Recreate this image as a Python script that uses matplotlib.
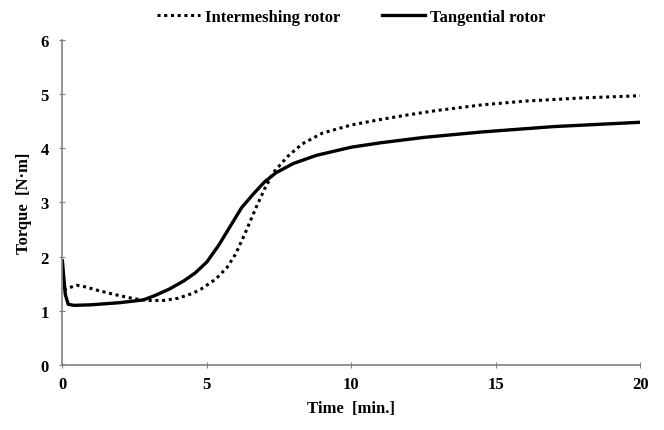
import matplotlib
matplotlib.use("Agg")
import matplotlib.pyplot as plt

# Intermeshing rotor (dotted)
t_inter = [0.05, 0.2, 0.5, 0.8, 1.2, 1.8, 2.5, 3.0, 3.5, 4.0, 4.5, 4.8, 5.3, 5.7, 6.0, 6.3,
           6.7, 7.0, 7.3, 7.8, 8.3, 9.0, 10.0, 11.0, 12.0, 13.0, 14.5, 16.0, 18.0, 20.0]
q_inter = [1.38, 1.42, 1.47, 1.44, 1.38, 1.3, 1.22, 1.19, 1.19, 1.23, 1.32, 1.4, 1.58, 1.8, 2.05, 2.4,
           2.9, 3.25, 3.55, 3.85, 4.08, 4.28, 4.43, 4.53, 4.62, 4.7, 4.8, 4.87, 4.93, 4.97]

# Tangential rotor (solid)
t_tang = [0.0, 0.05, 0.1, 0.2, 0.4, 1.0, 2.0, 2.8, 3.2, 3.7, 4.2, 4.6, 5.0, 5.4, 5.8, 6.2,
          6.6, 7.0, 7.4, 8.0, 8.8, 10.0, 11.0, 12.5, 14.5, 17.0, 20.0]
q_tang = [1.92, 1.6, 1.3, 1.12, 1.1, 1.11, 1.15, 1.2, 1.28, 1.4, 1.55, 1.7, 1.9, 2.2, 2.55, 2.9,
          3.15, 3.38, 3.55, 3.72, 3.87, 4.02, 4.1, 4.2, 4.3, 4.4, 4.48]

plt.rcParams["font.family"] = "Liberation Serif"
plt.rcParams["font.weight"] = "bold"

fig = plt.figure(figsize=(6.64, 4.31), dpi=100)
ax = fig.add_axes([0.094, 0.151, 0.87, 0.754])

ax.plot(t_inter, q_inter, color="black", linestyle=(0, (1, 1.2)), linewidth=2.2,
        label="Intermeshing rotor")
ax.plot(t_tang, q_tang, color="black", linestyle="-", linewidth=2.4,
        label="Tangential rotor")

ax.set_xlim(0, 20)
ax.set_ylim(0, 6)
ax.set_xticks([0, 5, 10, 15, 20])
ax.set_yticks([0, 1, 2, 3, 4, 5, 6])
for s in ["top", "right"]:
    ax.spines[s].set_visible(False)
for s in ["left", "bottom"]:
    ax.spines[s].set_color("#808080")
    ax.spines[s].set_linewidth(1.2)
ax.tick_params(axis="both", colors="#808080", labelcolor="black", labelsize=12,
               length=4, direction="inout")
ax.tick_params(axis="x", pad=6)
ax.tick_params(axis="y", pad=8)

ax.set_xlabel("Time  [min.]", fontsize=12, fontweight="bold", labelpad=6)
ax.set_ylabel("Torque  [N·m]", fontsize=12, fontweight="bold", labelpad=6)

ax.legend(loc="lower center", bbox_to_anchor=(0.5, 1.0), ncol=2, frameon=False,
          fontsize=12, handlelength=2.6, columnspacing=2.5, handletextpad=0.3)

fig.savefig("out.png", dpi=100)
